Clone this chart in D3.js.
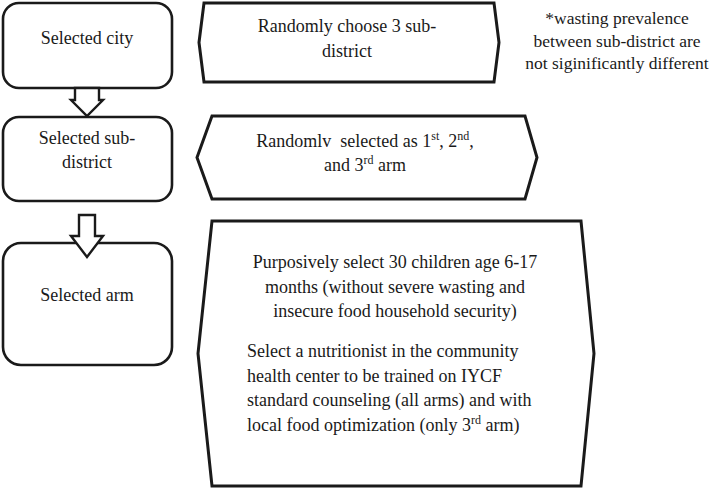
<!DOCTYPE html>
<html><head><meta charset="utf-8">
<script src="https://cdn.jsdelivr.net/npm/d3@7"></script>
<style>html,body{margin:0;padding:0;background:#fff;}svg{display:block;}</style>
</head><body>
<script>
// Flowchart content
const stepLabels = [["Selected city"], ["Selected sub-", "district"], ["Selected arm"]];
const actionLines = [
  [[{t:"Randomly choose 3 sub-"}], [{t:"district"}]],
  [[{t:"Randomlv  selected as 1"},{t:"st",sup:true},{t:", 2"},{t:"nd",sup:true},{t:","}], [{t:"and 3"},{t:"rd",sup:true},{t:" arm"}]],
  [[{t:"Purposively select 30 children age 6-17"}], [{t:"months (without severe wasting and"}], [{t:"insecure food household security)"}]]
];
const actionLines2 = [
  [{t:"Select a nutritionist in the community"}],
  [{t:"health center to be trained on IYCF"}],
  [{t:"standard counseling (all arms) and with"}],
  [{t:"local food optimization (only 3"},{t:"rd",sup:true},{t:" arm)"}]
];
const noteLines = ["*wasting prevalence", "between sub-district are", "not siginificantly different"];

const W = 709, H = 490;
const svg = d3.select("body").append("svg").attr("width", W).attr("height", H);
const font = "'Liberation Serif', 'Times New Roman', serif";
const ink = "#1a1a1a";
const fs = 18;

// Left rounded boxes
const stepBoxes = [
  {x:3, y:3, w:169, h:85, r:16},
  {x:3, y:117, w:169, h:84, r:16},
  {x:3, y:243, w:169, h:122, r:18}
];
const stepText = [{cx:87, y:[44]}, {cx:87, y:[144,168]}, {cx:87, y:[301]}];

const hexes = [
  {l:204, r:494, rp:499, lp:199, t:3, b:82},
  {l:212, r:525, rp:537, lp:197, t:116, b:199},
  {l:212, r:581, rp:594, lp:198, t:221, b:486}
];

const arrows = [
  {cx:87, sw:12, hw:16, top:88, hb:100, tip:116},
  {cx:87, sw:8, hw:16, top:215, hb:236, tip:257}
];

svg.selectAll("path.hex").data(hexes).join("path").attr("class","hex")
  .attr("d", d => {
    const m = (d.t + d.b)/2;
    return d3.line()([[d.l,d.t],[d.r,d.t],[d.rp,m],[d.r,d.b],[d.l,d.b],[d.lp,m]]) + "Z";
  })
  .attr("fill","#fff").attr("stroke",ink).attr("stroke-width",3).attr("stroke-linejoin","miter");

svg.selectAll("rect.step").data(stepBoxes).join("rect").attr("class","step")
  .attr("x",d=>d.x).attr("y",d=>d.y).attr("width",d=>d.w).attr("height",d=>d.h)
  .attr("rx",d=>d.r).attr("ry",d=>d.r)
  .attr("fill","#fff").attr("stroke",ink).attr("stroke-width",2.6);

svg.selectAll("path.arrow").data(arrows).join("path").attr("class","arrow")
  .attr("d", a => d3.line()([
    [a.cx-a.sw, a.top],[a.cx+a.sw, a.top],[a.cx+a.sw, a.hb],[a.cx+a.hw, a.hb],
    [a.cx, a.tip],[a.cx-a.hw, a.hb],[a.cx-a.sw, a.hb]]) + "Z")
  .attr("fill","#fff").attr("stroke",ink).attr("stroke-width",2.4).attr("stroke-linejoin","miter");

stepLabels.forEach((lines, i) => {
  lines.forEach((ln, j) => {
    svg.append("text").attr("x", stepText[i].cx).attr("y", stepText[i].y[j])
      .attr("text-anchor","middle").attr("font-family",font).attr("font-size",fs)
      .attr("fill",ink).text(ln);
  });
});

function richLine(x, y, parts, anchor) {
  const t = svg.append("text").attr("x",x).attr("y",y).attr("text-anchor",anchor)
    .attr("font-family",font).attr("font-size",fs).attr("fill",ink)
    .style("white-space","pre");
  let prevSup = false;
  parts.forEach(p => {
    const ts = t.append("tspan").text(p.t);
    if (p.sup) { ts.attr("dy",-7).attr("font-size",12); }
    else if (prevSup) { ts.attr("dy",7); }
    prevSup = !!p.sup;
  });
}

const actionPos = [
  {cx:347, y:[32,57]},
  {cx:365, y:[147,171]},
  {cx:395, y:[268,293,317]}
];
actionLines.forEach((lines, i) => {
  lines.forEach((parts, j) => richLine(actionPos[i].cx, actionPos[i].y[j], parts, "middle"));
});
const a2y = [357, 382, 406, 431];
actionLines2.forEach((parts, j) => richLine(247, a2y[j], parts, "start"));

const noteY = [24, 47, 69];
noteLines.forEach((ln, j) => {
  svg.append("text").attr("x",617).attr("y",noteY[j]).attr("text-anchor","middle")
    .attr("font-family",font).attr("font-size",17.5).attr("fill",ink).text(ln);
});
</script>
</body></html>
